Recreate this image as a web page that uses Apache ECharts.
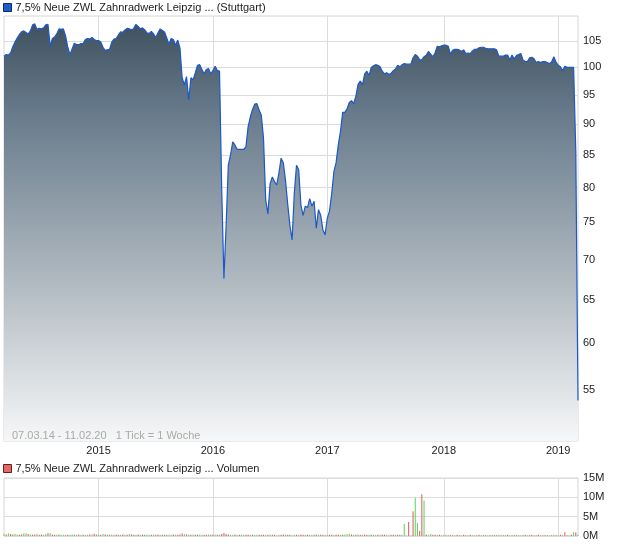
<!DOCTYPE html>
<html>
<head>
<meta charset="utf-8">
<script src="https://cdn.jsdelivr.net/npm/echarts@6/dist/echarts.min.js"></script>
<style>
html,body{margin:0;padding:0;background:#fff;}
#chart{width:620px;height:546px;}
</style>
</head>
<body>
<div id="chart"></div>
<script>
// ---- data ----
const seriesName = '7,5% Neue ZWL Zahnradwerk Leipzig ... (Stuttgart)';
const volumeName = '7,5% Neue ZWL Zahnradwerk Leipzig ... Volumen';
const rangeNote = '07.03.14 - 11.02.20   1 Tick = 1 Woche';
const firstWeek = '2014-03-07';
const priceTicks = [55, 60, 65, 70, 75, 80, 85, 90, 95, 100, 105];
const volumeTicks = [0, 5, 10, 15];

const price = [
102.1,102.4,102.3,102.7,103.9,104.8,105.6,106.3,106.8,107.0,106.7,106.4,107.0,108.2,108.4,107.3,107.5,107.4,107.6,108.2,
108.3,104.0,105.5,105.8,106.4,107.4,107.3,107.4,106.0,103.8,102.4,103.5,104.6,104.3,104.3,104.5,104.5,105.3,105.5,105.4,
105.7,105.3,105.1,105.1,104.8,103.8,103.2,103.3,103.4,104.8,105.4,105.5,106.2,106.8,106.7,107.2,107.5,107.4,107.2,107.5,
108.3,107.9,107.4,107.6,107.2,106.6,106.5,106.9,106.4,105.7,106.6,107.4,107.1,106.8,105.6,104.4,105.5,105.3,104.2,105.2,
103.7,98.1,96.8,98.3,94.2,98.1,97.7,99.0,100.4,100.5,99.6,98.8,99.6,99.8,98.8,99.4,100.2,99.4,99.3,79.7,
67.6,74.6,83.4,85.0,87.1,86.6,85.9,85.9,85.9,85.9,86.3,89.6,91.2,92.5,93.4,93.5,92.4,91.5,87.7,78.2,
76.2,80.6,81.6,80.9,80.4,82.2,84.5,83.8,81.1,77.6,74.6,72.6,79.2,83.4,82.7,77.5,76.0,77.3,77.1,78.4,
77.3,78.0,74.2,76.8,76.0,74.0,73.3,75.6,76.6,79.1,82.4,83.8,86.6,88.8,92.0,92.0,92.6,93.7,94.0,93.5,
94.8,96.9,97.5,96.8,98.8,99.3,98.5,100.0,100.3,100.5,100.4,100.1,99.3,98.8,99.0,98.7,98.9,99.4,99.7,100.4,
100.1,100.5,100.7,100.6,100.6,100.6,101.8,102.4,102.1,101.4,101.4,102.0,102.3,103.0,102.5,102.0,102.7,104.0,103.9,104.1,
104.2,104.2,104.0,102.5,103.2,103.4,103.4,103.3,103.0,103.3,102.6,102.7,102.6,103.1,103.4,103.4,103.7,103.8,103.8,103.6,
103.5,103.5,103.5,103.5,103.3,102.1,102.1,102.1,102.3,102.3,101.4,102.3,101.6,102.2,102.4,102.6,101.4,101.1,101.1,101.8,
101.9,101.6,100.9,101.1,100.9,101.1,101.1,100.9,100.7,101.0,102.0,101.0,100.4,100.1,99.4,100.2,100.0,100.0,100.0,100.0,
85.5,53.9
];

// weekly volume in millions
const volume = [
0.6,0.4,0.7,0.5,0.4,0.6,0.4,0.3,0.4,0.7,0.8,0.5,0.4,0.3,0.4,0.6,0.3,0.4,0.3,0.5,
0.7,0.8,0.4,0.3,0.3,0.4,0.3,0.3,0.2,0.3,0.3,0.4,0.3,0.3,0.4,0.3,0.3,0.2,0.3,0.4,
0.4,0.6,0.4,0.3,0.3,0.5,0.4,0.4,0.3,0.4,0.3,0.4,0.3,0.3,0.4,0.3,0.3,0.5,0.4,0.3,
0.3,0.4,0.3,0.3,0.3,0.4,0.3,0.3,0.3,0.3,0.4,0.3,0.3,0.4,0.3,0.3,0.3,0.4,0.3,0.3,
0.4,0.7,0.5,0.4,0.4,0.3,0.4,0.3,0.3,0.4,0.3,0.3,0.3,0.4,0.3,0.3,0.4,0.3,0.3,0.5,
0.8,0.5,0.4,0.3,0.3,0.4,0.3,0.3,0.3,0.3,0.3,0.4,0.3,0.3,0.3,0.3,0.3,0.3,0.3,0.3,
0.3,0.4,0.3,0.3,0.2,0.3,0.3,0.4,0.3,0.3,0.3,0.2,0.3,0.3,0.3,0.4,0.3,0.3,0.3,0.3,
0.3,0.3,0.4,0.3,0.3,0.3,0.3,0.3,0.3,0.3,0.3,0.3,0.4,0.3,0.3,0.4,0.5,0.6,0.4,0.3,
0.3,0.4,0.3,0.3,0.4,0.3,0.3,0.3,0.3,0.3,0.3,0.3,0.4,0.3,0.3,0.3,0.3,0.3,0.3,0.3,
0.3,0.3,3.1,0.2,3.6,0.2,6.4,9.8,3.3,1.3,10.8,9.2,0.4,0.3,0.5,0.3,0.3,0.3,0.3,0.2,
0.2,0.3,0.2,0.3,0.2,0.2,0.3,0.2,0.2,0.3,0.2,0.2,0.3,0.2,0.2,0.2,0.3,0.2,0.2,0.3,
0.2,0.2,0.3,0.2,0.2,0.3,0.2,0.2,0.2,0.3,0.2,0.2,0.3,0.2,0.2,0.2,0.3,0.3,0.2,0.2,
0.3,0.2,0.2,0.3,0.2,0.2,0.3,0.2,0.2,0.2,0.3,0.2,0.2,0.3,0.2,1.0,0.2,0.2,0.3,1.0,
1.0,0.3
];

// u = up week, d = down week, n = unchanged
const volumeDirection = (
'ududduudduududdudduu' + 'dudduduudduudududdud' + 'uddudududuuddudududd' +
'ududduududdududuudud' + 'ddudududduudduddudud' + 'ddduududuudduduudddu' +
'dudduuddudduududdudu' + 'uddudduuddudduduuudu' + 'dududduduududdunddud' +
'duundnduuddudnuddudu' + 'dudududdudduduuddudu' + 'ududduddudududduudud' +
'duddududududududdudu' + 'du').split('');

// ---- build ----
const dayMs = 86400000;
const start = new Date(firstWeek + 'T00:00:00Z').getTime();
const weeks = price.map((_, i) => new Date(start + i * 7 * dayMs));
const categories = weeks.map(d => d.toISOString().slice(0, 10));
const yearOf = i => new Date(weeks[i].getTime() + 2 * dayMs).getUTCFullYear();
const isYearTick = i => i > 0 && yearOf(i) !== yearOf(i - 1);
const yearLabel = {};
categories.forEach((c, i) => { if (isYearTick(i)) yearLabel[c] = String(yearOf(i)); });

const dirColor = { u: '#5ad35a', d: '#d95a5a', n: '#b0b0b0' };
const volumeData = volume.map((v, i) => ({
  value: v,
  itemStyle: { color: dirColor[volumeDirection[i]] || '#b0b0b0' }
}));

const FONT = 'Liberation Sans, Arial, sans-serif';
const gridLine = { color: '#dcdcdc', width: 1 };

const chart = echarts.init(document.getElementById('chart'), null, { renderer: 'canvas' });
chart.setOption({
  animation: false,
  backgroundColor: '#ffffff',
  textStyle: { fontFamily: FONT },
  title: {
    text: rangeNote,
    left: 7, top: 425,
    textStyle: { fontSize: 11, fontWeight: 'normal', color: '#a9a9a9', fontFamily: FONT }
  },
  legend: [
    {
      left: 3, top: 2, padding: 0, selectedMode: false,
      icon: 'rect', itemWidth: 8, itemHeight: 8, itemGap: 4,
      textStyle: { fontSize: 11, color: '#222', fontFamily: FONT, padding: [0, 0, 0, -1] },
      data: [{ name: seriesName, itemStyle: { color: '#1f5cc4', borderColor: '#0d2b66', borderWidth: 1 } }]
    },
    {
      left: 3, top: 463, padding: 0, selectedMode: false,
      icon: 'rect', itemWidth: 8, itemHeight: 8, itemGap: 4,
      textStyle: { fontSize: 11, color: '#222', fontFamily: FONT, padding: [0, 0, 0, -1] },
      data: [{ name: volumeName, itemStyle: { color: '#e06a6a', borderColor: '#6a1c1c', borderWidth: 1 } }]
    }
  ],
  grid: [
    { left: 4, right: 42, top: 16, bottom: 105, show: true, borderColor: '#d6d6d6', borderWidth: 1 },
    { left: 4, right: 42, top: 478, bottom: 10, show: true, borderColor: '#d6d6d6', borderWidth: 1 }
  ],
  xAxis: [
    {
      type: 'category', gridIndex: 0, data: categories, boundaryGap: false,
      axisLine: { show: false }, axisTick: { show: false },
      axisLabel: {
        interval: (i) => isYearTick(i),
        formatter: (v) => yearLabel[v] || '',
        hideOverlap: false,
        color: '#222', fontSize: 11, margin: 4, fontFamily: FONT
      },
      splitLine: { show: true, interval: (i) => isYearTick(i), lineStyle: gridLine }
    },
    {
      type: 'category', gridIndex: 1, data: categories, boundaryGap: false,
      axisLine: { show: false }, axisTick: { show: false }, axisLabel: { show: false },
      splitLine: { show: true, interval: (i) => isYearTick(i), lineStyle: gridLine }
    }
  ],
  yAxis: [
    {
      type: 'log', gridIndex: 0, position: 'right', min: 50, max: 110,
      axisLine: { show: false },
      axisTick: { show: false, customValues: priceTicks },
      axisLabel: { customValues: priceTicks, color: '#222', fontSize: 11, margin: 5, fontFamily: FONT },
      splitLine: { show: true, lineStyle: gridLine }
    },
    {
      type: 'value', gridIndex: 1, position: 'right', min: 0, max: 15, interval: 5,
      axisLine: { show: false }, axisTick: { show: false },
      axisLabel: { formatter: (v) => v + 'M', color: '#222', fontSize: 11, margin: 5, fontFamily: FONT },
      splitLine: { show: true, lineStyle: gridLine }
    }
  ],
  series: [
    {
      name: seriesName, type: 'line', xAxisIndex: 0, yAxisIndex: 0,
      data: price, showSymbol: false, symbol: 'none',
      lineStyle: { color: '#1c58c9', width: 1.2 },
      itemStyle: { color: '#1f5cc4' },
      areaStyle: {
        origin: 'start', opacity: 1,
        color: {
          type: 'linear', x: 0, y: 16, x2: 0, y2: 441, global: true,
          colorStops: [
            { offset: 0, color: '#3c4e5b' },
            { offset: 0.22, color: '#66798a' },
            { offset: 0.64, color: '#b3bcc3' },
            { offset: 1, color: '#f6f7f8' }
          ]
        }
      }
    },
    {
      name: volumeName, type: 'bar', xAxisIndex: 1, yAxisIndex: 1,
      data: volumeData, barWidth: 1, itemStyle: { color: '#e06a6a' }
    }
  ]
});
</script>
</body>
</html>
